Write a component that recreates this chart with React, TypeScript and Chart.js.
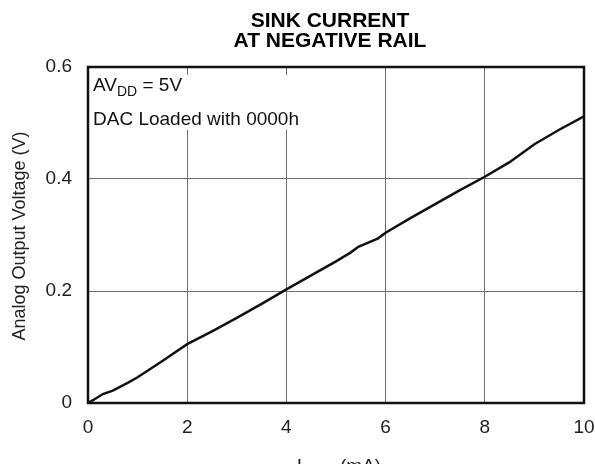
import React, { useEffect, useRef } from "react";
import { Chart, registerables } from "chart.js";

Chart.register(...registerables);

const currentMA = [0, 0.1, 0.3, 0.5, 0.8, 1.0, 1.5, 2.0, 2.5, 3.0, 3.5, 4.0, 4.5, 5.0, 5.3, 5.45, 5.85, 6.0, 6.5, 7.0, 7.5, 8.0, 8.5, 9.0, 9.5, 10];
const outputV = [0, 0.005, 0.016, 0.022, 0.036, 0.046, 0.075, 0.105, 0.128, 0.152, 0.177, 0.203, 0.228, 0.253, 0.269, 0.279, 0.294, 0.304, 0.33, 0.355, 0.38, 0.404, 0.43, 0.462, 0.488, 0.512];
const xTicks = [0, 2, 4, 6, 8, 10];
const yTicks = [0, 0.2, 0.4, 0.6];
const titleLines = ["SINK CURRENT", "AT NEGATIVE RAIL"];
const yTitle = "Analog Output Voltage (V)";
const FONT = "'Liberation Sans', Arial, Helvetica, sans-serif";

const overlay = {
  id: "overlay",
  beforeDatasetsDraw(chart: any) {
    const ctx = chart.ctx;
    const a = chart.chartArea;
    ctx.save();
    ctx.fillStyle = "#fff";
    ctx.fillRect(a.left + 1, a.top + 8, 212, 55);
    ctx.fillStyle = "#111";
    ctx.textBaseline = "alphabetic";
    ctx.textAlign = "left";
    // AV_DD = 5V
    let x = a.left + 5;
    const y1 = a.top + 24;
    ctx.font = `19px ${FONT}`;
    ctx.fillText("AV", x, y1);
    x += ctx.measureText("AV").width;
    ctx.font = `14px ${FONT}`;
    ctx.fillText("DD", x, y1 + 5);
    x += ctx.measureText("DD").width;
    ctx.font = `19px ${FONT}`;
    ctx.fillText(" = 5V", x, y1);
    ctx.fillText("DAC Loaded with 0000h", a.left + 5, a.top + 58);
    ctx.restore();
  },
  afterDraw(chart: any) {
    const ctx = chart.ctx;
    const a = chart.chartArea;
    ctx.save();
    // frame
    ctx.strokeStyle = "#111";
    ctx.lineWidth = 2.5;
    ctx.strokeRect(a.left, a.top, a.right - a.left, a.bottom - a.top);
    // title
    ctx.fillStyle = "#000";
    ctx.textAlign = "center";
    ctx.textBaseline = "alphabetic";
    ctx.font = `bold 21px ${FONT}`;
    ctx.fillText(titleLines[0], 330, 27);
    ctx.fillText(titleLines[1], 330, 47);
    // y title
    ctx.fillStyle = "#222";
    ctx.font = `18px ${FONT}`;
    ctx.save();
    ctx.translate(25, 236);
    ctx.rotate(-Math.PI / 2);
    ctx.fillText(yTitle, 0, 0);
    ctx.restore();
    // x title: I_SINK (mA)
    ctx.textAlign = "left";
    const parts = [
      { t: "I", f: `19px ${FONT}`, dy: 0 },
      { t: "SINK", f: `14px ${FONT}`, dy: 5 },
      { t: " (mA)", f: `19px ${FONT}`, dy: 0 },
    ];
    let total = 0;
    for (const p of parts) {
      ctx.font = p.f;
      total += ctx.measureText(p.t).width;
    }
    let x = (a.left + a.right) / 2 + 3 - total / 2;
    const by = 472;
    for (const p of parts) {
      ctx.font = p.f;
      ctx.fillText(p.t, x, by + p.dy);
      x += ctx.measureText(p.t).width;
    }
    ctx.restore();
  },
};

export default function App() {
  const ref = useRef<HTMLCanvasElement>(null);
  useEffect(() => {
    if (!ref.current) return;
    const chart = new Chart(ref.current, {
      type: "line",
      data: {
        datasets: [
          {
            data: currentMA.map((c, i) => ({ x: c, y: outputV[i] })),
            borderColor: "#111",
            borderWidth: 2.5,
            pointRadius: 0,
            tension: 0,
            fill: false,
          },
        ],
      },
      options: {
        animation: false,
        responsive: false,
        events: [],
        layout: { autoPadding: false, padding: { top: 67, right: 11, left: 0, bottom: 0 } },
        plugins: { legend: { display: false }, tooltip: { enabled: false }, title: { display: false } },
        scales: {
          x: {
            type: "linear",
            min: 0,
            max: 10,
            afterBuildTicks: (s: any) => {
              s.ticks = xTicks.map((v) => ({ value: v }));
            },
            afterFit: (s: any) => {
              s.height = 61;
              s.paddingLeft = 0;
              s.paddingRight = 0;
            },
            grid: { color: "#707070", lineWidth: 1, drawTicks: false },
            border: { display: false },
            ticks: { color: "#222", font: { family: FONT, size: 19 }, padding: 13, maxRotation: 0 },
          },
          y: {
            type: "linear",
            min: 0,
            max: 0.6,
            afterBuildTicks: (s: any) => {
              s.ticks = yTicks.map((v) => ({ value: v }));
            },
            afterFit: (s: any) => {
              s.width = 88;
              s.paddingTop = 0;
              s.paddingBottom = 0;
            },
            grid: { color: "#707070", lineWidth: 1, drawTicks: false },
            border: { display: false },
            ticks: {
              color: "#222",
              font: { family: FONT, size: 19 },
              padding: 16,
              callback: (v: any) => (v === 0 ? "0" : Number(v).toFixed(1)),
            },
          },
        },
      },
      plugins: [overlay],
    });
    return () => chart.destroy();
  }, []);
  return (
    <div style={{ position: "absolute", left: 0, top: 0, width: 595, height: 464, background: "#fff" }}>
      <canvas ref={ref} width={595} height={464} style={{ width: 595, height: 464, display: "block" }} />
    </div>
  );
}
